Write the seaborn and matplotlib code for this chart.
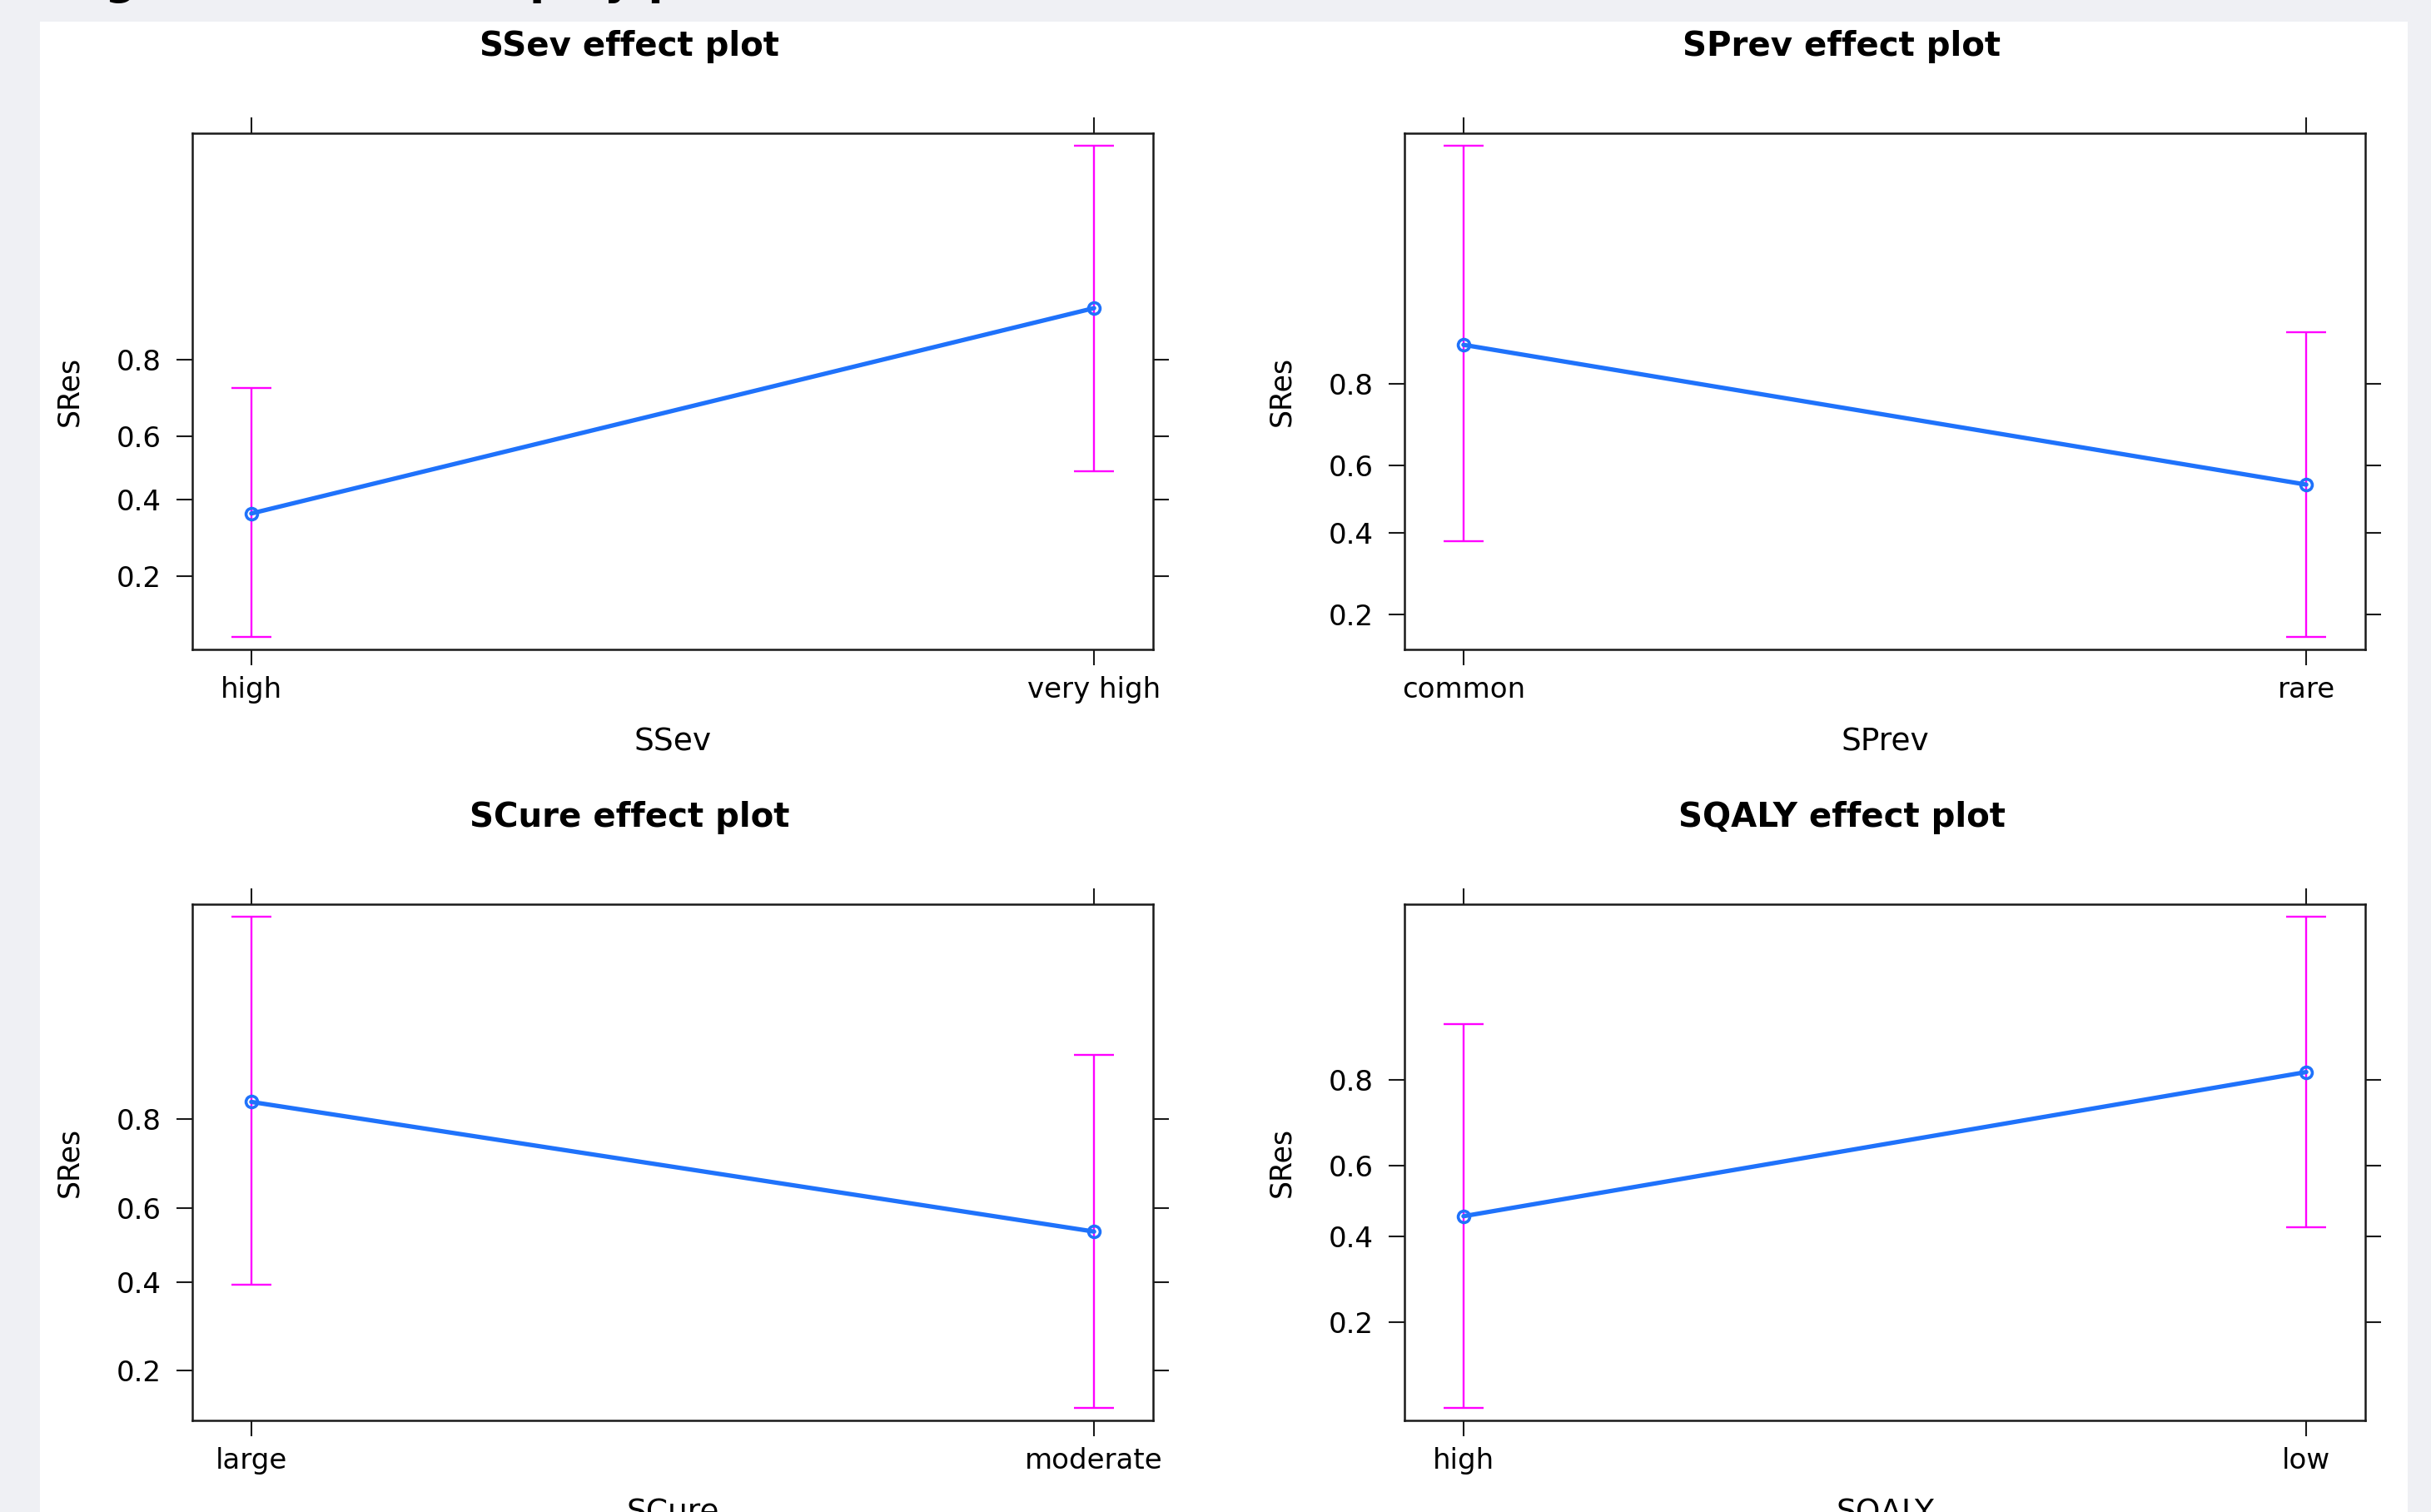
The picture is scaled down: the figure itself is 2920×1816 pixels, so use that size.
import numpy as np
import pandas as pd
import seaborn as sns
import matplotlib.pyplot as plt
from matplotlib.patches import Rectangle
from matplotlib.ticker import NullLocator

# Valores (escala de probabilidad)
ssev_niveles = ["high", "very high"]
ssev_ajuste = [0.358, 0.885]
ssev_inf = [0.103, 0.489]
ssev_sup = [0.734, 0.984]

sprev_niveles = ["common", "rare"]
sprev_ajuste = [0.865, 0.544]
sprev_inf = [0.377, 0.160]
sprev_sup = [0.986, 0.882]

scure_niveles = ["large", "moderate"]
scure_ajuste = [0.829, 0.537]
scure_inf = [0.392, 0.142]
scure_sup = [0.974, 0.891]

sqaly_niveles = ["high", "low"]
sqaly_ajuste = [0.456, 0.814]
sqaly_inf = [0.085, 0.425]
sqaly_sup = [0.883, 0.963]

ticks_y = [0.2, 0.4, 0.6, 0.8]
etiquetas_y = ["0.2", "0.4", "0.6", "0.8"]

AZUL = "#1f72fb"
MAGENTA = "#ff00ff"
BORDE = "#1a1a1a"

sns.set_style("white")
plt.rcParams['font.family'] = ['DejaVu Sans']
plt.rcParams['text.color'] = 'black'

W, H = 2920, 1816


def logit(p):
    p = np.asarray(p, dtype=float)
    return np.log(p / (1 - p))


def expit(z):
    return 1 / (1 + np.exp(-z))


# Dibuja un panel de efecto con intervalos de confianza
def graficar_panel(ax, nombre, niveles, ajuste, inf, sup):
    df = pd.DataFrame({nombre: niveles, 'SRes': ajuste, 'inf': inf, 'sup': sup})
    pos = np.arange(len(niveles))

    ax.errorbar(pos, df['SRes'], yerr=[df['SRes'] - df['inf'], df['sup'] - df['SRes']],
                fmt='none', ecolor=MAGENTA, elinewidth=1.7, capsize=17, capthick=1.7, zorder=2)
    sns.pointplot(data=df, x=nombre, y='SRes', order=niveles, color=AZUL, errorbar=None,
                  markers='o', linestyles='-', linewidth=3.8, markersize=10,
                  markeredgewidth=2.6, markerfacecolor='none', zorder=3, ax=ax)

    # escala logit como en el grafico de efectos original
    ax.set_yscale('logit')
    lo, hi = logit(min(inf)), logit(max(sup))
    pad = 0.025 * (hi - lo)
    ax.set_ylim(expit(lo - pad), expit(hi + pad))
    ax.set_yticks(ticks_y, labels=etiquetas_y)
    ax.yaxis.set_minor_locator(NullLocator())
    ax.xaxis.set_minor_locator(NullLocator())
    ax.set_xlim(-0.07, len(niveles) - 1 + 0.07)
    ax.set_xticks(pos, labels=niveles)

    ax.tick_params(axis='both', direction='out', length=14, width=1.5, color=BORDE,
                   labelsize=24.5, labelcolor='black', bottom=True, left=True,
                   top=True, right=True, labeltop=False, labelright=False)
    ax.tick_params(axis='y', pad=13)
    ax.tick_params(axis='x', pad=9)
    for s in ax.spines.values():
        s.set_visible(True)
        s.set_linewidth(1.8)
        s.set_color(BORDE)

    ax.set_xlabel(nombre, fontsize=27, color='black')
    ax.xaxis.set_label_coords(0.5, -121 / 620)
    ax.xaxis.label.set_va('baseline')
    ax.set_ylabel('SRes', fontsize=25, color='black')
    ax.yaxis.set_label_coords(-148 / 1154, 0.5)
    ax.yaxis.label.set_va('center')
    ax.set_title(f'{nombre} effect plot', fontsize=29, fontweight='bold', color='black',
                 x=0.455, y=1 + 85 / 620, va='baseline')


def main():
    fig = plt.figure(figsize=(W / 100, H / 100), dpi=100, facecolor='#eff0f4')
    fig.add_artist(Rectangle((48 / W, 0), (2892 - 48) / W, (H - 26) / H,
                             transform=fig.transFigure, facecolor='white',
                             edgecolor='none', zorder=0))
    # encabezado del documento, cortado por arriba
    fig.text(72 / W, 1 + 7 / H, 'Figure 2. Effect display plots', fontsize=38,
             fontweight='bold', va='baseline', ha='left')

    bw, bh = 1154 / W, 620 / H
    cajas = [
        (231 / W, (H - 780) / H),
        (1687 / W, (H - 780) / H),
        (231 / W, (H - 1706) / H),
        (1687 / W, (H - 1706) / H),
    ]
    paneles = [
        ('SSev', ssev_niveles, ssev_ajuste, ssev_inf, ssev_sup),
        ('SPrev', sprev_niveles, sprev_ajuste, sprev_inf, sprev_sup),
        ('SCure', scure_niveles, scure_ajuste, scure_inf, scure_sup),
        ('SQALY', sqaly_niveles, sqaly_ajuste, sqaly_inf, sqaly_sup),
    ]
    for (x0, y0), panel in zip(cajas, paneles):
        ax = fig.add_axes([x0, y0, bw, bh])
        ax.set_facecolor('white')
        graficar_panel(ax, *panel)

    fig.savefig('out.png', dpi=100, facecolor=fig.get_facecolor())
    plt.close(fig)


if __name__ == "__main__":
    main()
